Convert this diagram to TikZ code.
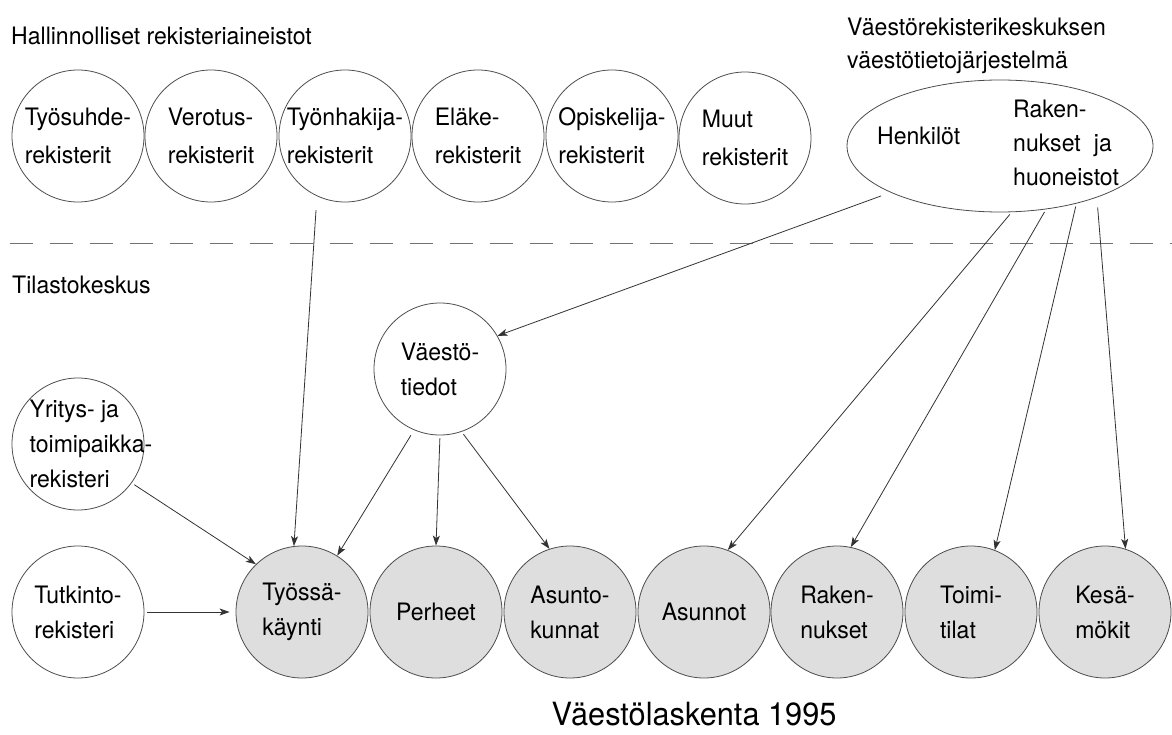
\documentclass[tikz,border=0pt]{standalone}
\usepackage{fontspec}
\setmainfont[FakeStretch=0.96]{TeX Gyre Heros}
\usetikzlibrary{arrows.meta,shapes.geometric}

\tikzset{
  reg/.style={draw=black!70, line width=0.8pt, circle, minimum size=132pt, inner sep=0pt,
    align=left, font=\fontsize{24}{38}\selectfont},
  stat/.style={reg, fill=black!13, font=\fontsize{24}{35}\selectfont},
  lbl/.style={inner sep=0pt, align=left, font=\fontsize{24}{34}\selectfont},
  conn/.style={->, draw=black!80, line width=0.8pt, shorten <=3pt},
}

\begin{document}
\begin{tikzpicture}[x=1pt,y=-1pt,>={Stealth[length=10pt,width=7pt,inset=2.5pt]},line join=bevel]
\useasboundingbox (0,0) rectangle (1172,735);
%%
  \node (hall) at (11,45) [lbl, anchor=base west] {Hallinnolliset rekisteriaineistot};
  \node (vrktitle) at (847,45.5) [lbl, anchor=west, font=\fontsize{24}{33}\selectfont] {Väestörekisterikeskuksen\\väestötietojärjestelmä};
  \node (tk) at (12,293) [lbl, anchor=base west] {Tilastokeskus};
  \node (vl) at (694,725) [lbl, anchor=base, font=\fontsize{32}{36}\selectfont] {Väestölaskenta 1995};
  \draw [black!55, line width=0.8pt, dash pattern=on 23pt off 17pt] (10,243) -- (1172,243);
%
  \node (tyosuhde) at (78,136) [reg] {Työsuhde-\\rekisterit};
  \node (verotus) at (211,136) [reg] {Verotus-\\rekisterit};
  \node (tyonhakija) at (345,136) [reg] {Työnhakija-\\rekisterit};
  \node (elake) at (478,136) [reg] {Eläke-\\rekisterit};
  \node (opiskelija) at (612,136) [reg] {Opiskelija-\\rekisterit};
  \node (muut) at (745,138) [reg] {Muut\\rekisterit};
  \node (vrk) at (1000,146) [draw=black!70, line width=0.8pt, ellipse, minimum width=306pt, minimum height=132pt, inner sep=0pt] {};
  \node (henk) at (877,145) [lbl, anchor=base west] {Henkilöt};
  \node (rakhuon) at (1013,143) [lbl, anchor=west] {Raken-\\nukset\hspace{0.55em}ja\\huoneistot};
%
  \node (vaesto) at (440,369) [reg, font=\fontsize{24}{35}\selectfont] {Väestö-\\tiedot};
  \node (yritys) at (78,444) [reg, label={[lbl, font=\fontsize{24}{35}\selectfont, xshift=13pt]center:{Yritys- ja\\toimipaikka-\\rekisteri}}] {};
  \node (tutkinto) at (78,612) [reg, font=\fontsize{24}{35}\selectfont] {Tutkinto-\\rekisteri};
%
  \node (tyossa) at (302,612) [stat] {Työssä-\\käynti};
  \node (perheet) at (436,612) [stat] {Perheet};
  \node (asuntok) at (570,612) [stat] {Asunto-\\kunnat};
  \node (asunnot) at (704,612) [stat] {Asunnot};
  \node (rakennukset) at (837,612) [stat] {Raken-\\nukset};
  \node (toimitilat) at (971,612) [stat] {Toimi-\\tilat};
  \node (kesamokit) at (1105,612) [stat] {Kesä-\\mökit};
%%
  \draw [conn, shorten <=14pt] (tyonhakija.-115) -- (tyossa.97);
  \draw [conn] (yritys.-36) -- (tyossa.134);
  \draw [conn, shorten >=6pt] (tutkinto.east) -- (tyossa.west);
  \draw [conn, shorten <=6pt] (vaesto.-113) -- (tyossa.58);
  \draw [conn] (vaesto.south) -- (perheet.north);
  \draw [conn] (vaesto.-71) -- (asuntok.108);
  \draw [conn, shorten <=10pt] (vrk.203) -- (vaesto.30);
  \draw [conn] (vrk.-80) -- (asunnot.69);
  \draw [conn] (vrk.-54) -- (rakennukset.78);
  \draw [conn] (vrk.-37) -- (toimitilat.69);
  \draw [conn, shorten <=10pt] (vrk.-28) -- (kesamokit.72);
%
\end{tikzpicture}
\end{document}
